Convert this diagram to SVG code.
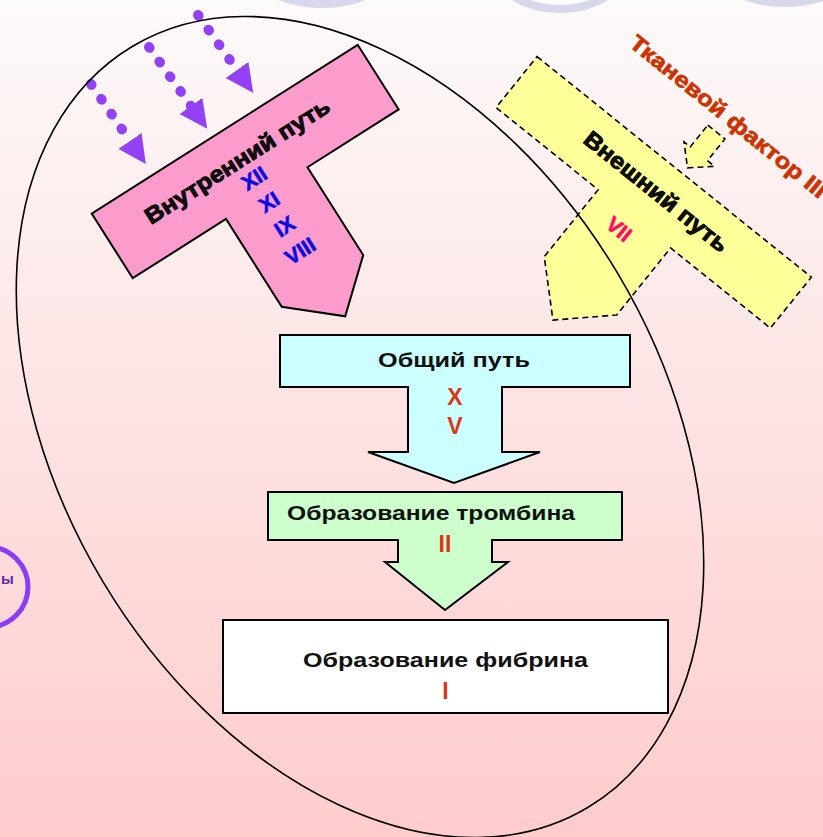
<svg xmlns="http://www.w3.org/2000/svg" width="823" height="837" viewBox="0 0 823 837">
<defs>
<linearGradient id="bg" x1="0" y1="0" x2="0" y2="1">
<stop offset="0" stop-color="#fdfafa"/>
<stop offset="0.45" stop-color="#fde5e5"/>
<stop offset="1" stop-color="#ffcccc"/>
</linearGradient>
<marker id="head" markerUnits="userSpaceOnUse" viewBox="0 0 28 28" refX="0" refY="14" markerWidth="28" markerHeight="28" orient="auto">
<path d="M0,0 L28,14 L0,28 Z" fill="#9440f4"/>
</marker>
<style>
.t{font-family:"Liberation Sans",Arial,sans-serif;font-weight:bold}
.blk{fill:#111;}
.hv{stroke:#000;stroke-width:0.9}
.red{fill:#d9381a}
.blue{fill:#0a0ae6;stroke:#0a0ae6;stroke-width:0.6}
.node{stroke:#000;stroke-width:2}
.dash{stroke:#000;stroke-width:1.6;stroke-dasharray:6 4}
.dots{fill:none;stroke:#9440f4;stroke-width:10;stroke-linecap:round;stroke-dasharray:1 17}
.deco{fill:#fbfaff;stroke:#d8d8ec;stroke-width:8}
</style>
</defs>
<rect width="823" height="837" fill="url(#bg)"/>
<g id="decor">
<ellipse class="deco" cx="322" cy="-70" rx="95" ry="74"/>
<ellipse class="deco" cx="560" cy="-60" rx="80" ry="69"/>
<ellipse class="deco" cx="785" cy="-70" rx="95" ry="73"/>
<circle cx="-12" cy="587" r="40" fill="none" stroke="#8b3df2" stroke-width="5"/>
<text class="t" x="1" y="584" font-size="15" fill="#5b2ca8">ы</text>
</g>
<g id="intrinsic">
<g transform="rotate(-32.4)">
<polygon class="node" fill="#fb9ccc" points="-37,229.5 278,229.5 278,306 170,306 170,410 122,452 73.5,410 73.5,306 -37,306"/>
<text class="t blk hv" x="114" y="271" font-size="23" text-anchor="middle" textLength="214" lengthAdjust="spacingAndGlyphs">Внутренний путь</text>
<text class="t blue" x="119" y="294" font-size="21" text-anchor="middle">XII</text>
<text class="t blue" x="119" y="322" font-size="21" text-anchor="middle">XI</text>
<text class="t blue" x="119" y="351" font-size="21" text-anchor="middle">IX</text>
<text class="t blue" x="119" y="380" font-size="21" text-anchor="middle">VIII</text>
</g>
</g>
<g id="extrinsic">
<g transform="rotate(38.8)">
<polygon class="dash" fill="#ffff99" points="454,-292.4 806,-292.4 806,-227 678,-227 678,-141 631.5,-97 585,-141 585,-227 454,-227"/>
<polygon class="dash" fill="#ffff99" points="630,-346 652,-346 652,-318 661,-318 641,-300 622,-318 630,-318"/>
<text class="t blk hv" x="631.5" y="-254" font-size="23" text-anchor="middle" textLength="178" lengthAdjust="spacingAndGlyphs">Внешний путь</text>
<text class="t" x="626" y="-202" font-size="21" text-anchor="middle" fill="#ff0a6c" stroke="#ff0a6c" stroke-width="0.6">VII</text>
<text class="t" x="518" y="-358" font-size="22" fill="#cc3300" stroke="#cc3300" stroke-width="0.7" textLength="245" lengthAdjust="spacingAndGlyphs">Тканевой фактор III</text>
</g>
</g>
<g id="common">
<path class="node" fill="#ccffff" d="M280,335 H630 V387 H502 V452 H540 L454,483 L368,452 H408 V387 H280 Z"/>
<text class="t blk" x="454" y="367" font-size="21" text-anchor="middle" textLength="152" lengthAdjust="spacingAndGlyphs">Общий путь</text>
<text class="t red" x="455" y="405" font-size="23" text-anchor="middle">X</text>
<text class="t red" x="455" y="434" font-size="23" text-anchor="middle">V</text>
</g>
<g id="thrombin">
<path class="node" fill="#ccffcc" d="M268,492 H622 V540 H492 V562 H508 L445,610 L385,562 H398 V540 H268 Z"/>
<text class="t blk" x="287" y="520" font-size="21" textLength="288" lengthAdjust="spacingAndGlyphs">Образование тромбина</text>
<text class="t red" x="445" y="552" font-size="23" text-anchor="middle">II</text>
</g>
<g id="fibrin">
<rect class="node" x="223" y="620" width="445" height="93" fill="#ffffff"/>
<text class="t blk" x="445.5" y="667" font-size="21" text-anchor="middle" textLength="285" lengthAdjust="spacingAndGlyphs">Образование фибрина</text>
<text class="t red" x="445.5" y="699" font-size="23" text-anchor="middle">I</text>
</g>
<g id="connectors">
<path class="dots" d="M91,84 L130,141" marker-end="url(#head)"/>
<path class="dots" d="M149,47 L191,106" marker-end="url(#head)"/>
<path class="dots" d="M198,15 L237,70" marker-end="url(#head)"/>
</g>
<g id="scope">
<ellipse cx="360" cy="427" rx="443.5" ry="300" transform="rotate(59.1 360 427)" fill="none" stroke="#000" stroke-width="1.6"/>
</g>
</svg>
